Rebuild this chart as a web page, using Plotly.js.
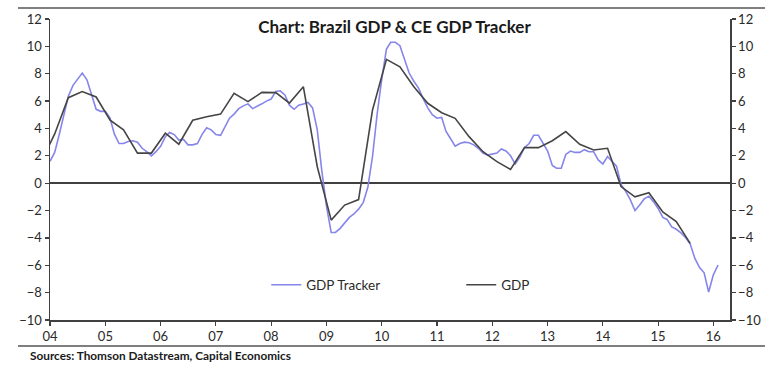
<!DOCTYPE html>
<html><head><meta charset="utf-8">
<script src="https://cdn.plot.ly/plotly-3.0.1.min.js"></script>
<style>html,body{margin:0;padding:0;background:#fff}#chart{width:774px;height:365px}</style>
</head><body><div id="chart"></div>
<script>
// Monthly CE GDP Tracker (% y/y), Jan 2004 onward
const trackerStart = [2004, 1];
const trackerValues = [
  1.6, 2.25, 3.5, 4.9, 6.35, 7.15, 7.6, 8.05, 7.55, 6.4, 5.4, 5.25,
  5.25, 4.75, 3.6, 2.9, 2.9, 3.05, 3.1, 3.0, 2.55, 2.3, 2.0, 2.3,
  2.7, 3.4, 3.7, 3.55, 3.15, 3.2, 2.8, 2.8, 2.9, 3.55, 4.05, 3.9,
  3.55, 3.5, 4.15, 4.75, 5.05, 5.45, 5.65, 5.8, 5.45, 5.6, 5.8, 6.0,
  6.15, 6.7, 6.75, 6.45, 5.7, 5.4, 5.7, 5.78, 5.9, 5.5, 3.9, 0.9,
  -1.7, -3.6, -3.6, -3.3, -2.9, -2.5, -2.25, -1.9, -1.4, -0.3, 1.95, 5.0,
  7.6, 9.8, 10.3, 10.3, 10.05, 9.0, 8.05, 7.45, 6.95, 6.2, 5.5, 5.0,
  4.75, 4.8, 3.8, 3.25, 2.7, 2.9, 3.0, 2.96, 2.8, 2.55, 2.2, 2.05,
  2.1, 2.2, 2.5, 2.35, 2.0, 1.4, 1.9, 2.6, 2.9, 3.5, 3.5, 2.95,
  2.35, 1.3, 1.09, 1.09, 2.1, 2.35, 2.25, 2.25, 2.45, 2.3, 2.3, 1.7,
  1.4, 1.95, 1.6, 1.25, -0.1, -0.6, -1.2, -2.0, -1.6, -1.15, -0.95, -1.35,
  -1.85, -2.5, -2.65, -3.2, -3.37, -3.63, -3.97, -4.45, -5.5, -6.15, -6.55, -7.95,
  -6.7, -5.98
];
// Quarterly GDP (% y/y), plotted at mid-quarter month, from Q4 2003
const gdpStart = [2003, 11];
const gdpValues = [
  1.5,
  3.6, 6.25, 6.7, 6.3,
  4.6, 3.9, 2.2, 2.2,
  3.65, 2.85, 4.6, 4.85,
  5.05, 6.57, 5.96, 6.64,
  6.62, 5.85, 7.05, 1.2,
  -2.7, -1.6, -1.2, 5.35,
  9.05, 8.5, 7.05, 5.84,
  5.15, 4.74, 3.4, 2.3,
  1.57, 1.0, 2.6, 2.6,
  3.1, 3.77, 2.84, 2.43,
  2.55, -0.25, -1.0, -0.7,
  -2.1, -2.8, -4.4
];
const yearTickVals = ['2004-01-01','2005-01-01','2006-01-01','2007-01-01','2008-01-01','2009-01-01','2010-01-01','2011-01-01','2012-01-01','2013-01-01','2014-01-01','2015-01-01','2016-01-01'];
const yearTickText = ['04','05','06','07','08','09','10','11','12','13','14','15','16'];
const yTickVals = [-10,-8,-6,-4,-2,0,2,4,6,8,10,12];

function monthDates(start, step, n) {
  const out = [];
  let y = start[0], m = start[1];
  for (let i = 0; i < n; i++) {
    out.push(y + '-' + String(m).padStart(2,'0') + '-01');
    m += step;
    while (m > 12) { m -= 12; y += 1; }
  }
  return out;
}

const FONT = 'Lato, "Open Sans", sans-serif';
const AX = '#404040';

const traces = [
  {
    x: monthDates(trackerStart, 1, trackerValues.length), y: trackerValues,
    name: 'GDP Tracker', type: 'scatter', mode: 'lines',
    line: {color: '#8686ea', width: 1.6}, yaxis: 'y', hoverinfo: 'skip'
  },
  {
    x: monthDates(gdpStart, 3, gdpValues.length), y: gdpValues,
    name: 'GDP', type: 'scatter', mode: 'lines',
    line: {color: '#454545', width: 1.6}, yaxis: 'y2', hoverinfo: 'skip'
  }
];

const yCommon = {
  range: [-10, 12], tickvals: yTickVals, ticks: 'outside', ticklen: 4, tickwidth: 1.2,
  tickcolor: AX, showline: true, linecolor: AX, linewidth: 1.5, showgrid: false,
  tickfont: {family: FONT, size: 13, color: '#2a2a2a'}, fixedrange: true
};

const layout = {
  width: 774, height: 365,
  margin: {l: 50, r: 44, t: 19, b: 45},
  paper_bgcolor: '#fff', plot_bgcolor: '#fff',
  showlegend: true,
  title: {
    text: '<b>Chart: Brazil GDP & CE GDP Tracker</b>',
    font: {family: FONT, size: 17, color: '#1a1a1a'},
    x: 0.5066, xref: 'paper', xanchor: 'center',
    y: 1 - 27/365, yref: 'container', yanchor: 'middle'
  },
  xaxis: {
    type: 'date', range: ['2004-01-01', '2016-04-20'],
    tickvals: yearTickVals, ticktext: yearTickText,
    ticks: 'outside', ticklen: 4, tickwidth: 1.2, tickcolor: AX,
    showline: true, linecolor: AX, linewidth: 1.5, showgrid: false, zeroline: false,
    tickfont: {family: FONT, size: 13, color: '#2a2a2a'}, fixedrange: true
  },
  yaxis: Object.assign({}, yCommon, {
    side: 'left', zeroline: true, zerolinecolor: AX, zerolinewidth: 1.5
  }),
  yaxis2: Object.assign({}, yCommon, {
    side: 'right', overlaying: 'y', zeroline: false
  }),
  legend: {
    orientation: 'h', x: 0.318, xanchor: 'left', y: (320 - 285) / 301, yanchor: 'middle',
    entrywidth: 150, entrywidthmode: 'pixels', bgcolor: 'rgba(0,0,0,0)',
    font: {family: FONT, size: 13.5, color: '#2a2a2a'}, borderwidth: 0
  },
  shapes: [
    {type: 'line', xref: 'paper', yref: 'paper', x0: -32/680, x1: 715/680, y0: (320-8)/301, y1: (320-8)/301,
     line: {color: '#555', width: 1.5}},
    {type: 'line', xref: 'paper', yref: 'paper', x0: -32/680, x1: 715/680, y0: (320-346)/301, y1: (320-346)/301,
     line: {color: '#555', width: 1.5}}
  ],
  annotations: [
    {text: '<b>Sources: Thomson Datastream, Capital Economics</b>', xref: 'paper', yref: 'paper',
     x: -22/680, y: (320-355)/301, xanchor: 'left', yanchor: 'middle', showarrow: false,
     font: {family: FONT, size: 11.8, color: '#1a1a1a'}}
  ]
};

Plotly.newPlot('chart', traces, layout, {displayModeBar: false, staticPlot: true});
</script>
</body></html>
